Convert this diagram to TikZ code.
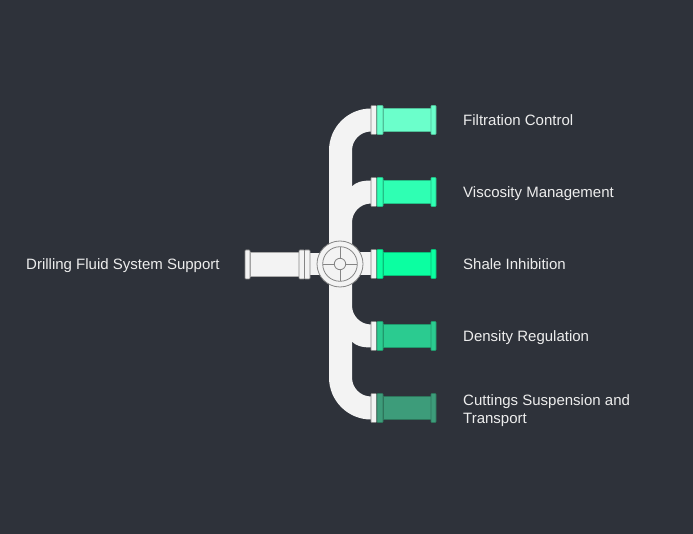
\documentclass[tikz,border=0pt]{standalone}
\usepackage{fontspec}
\setmainfont{Liberation Sans}
\usepackage{tikz}

\definecolor{bgdark}{HTML}{2E323A}
\definecolor{pipewhite}{HTML}{F3F3F3}
\definecolor{pipeedge}{HTML}{858585}
\definecolor{labeltext}{HTML}{EDEDED}
\definecolor{greenA}{HTML}{6BFFCB}
\definecolor{greenB}{HTML}{2FFFB3}
\definecolor{greenC}{HTML}{0BFFA1}
\definecolor{greenD}{HTML}{2BCB90}
\definecolor{greenE}{HTML}{3D9C7A}

\begin{document}
\begin{tikzpicture}[x=1pt,y=-1pt,
    pipe/.style={fill=pipewhite},
    flange/.style={fill=pipewhite,draw=pipeedge,line width=0.6pt,rounded corners=0.8pt},
    label/.style={anchor=base west,inner sep=0pt,text=labeltext,align=left,
                  font=\fontsize{15}{18}\selectfont}]
        % Background
        \fill[bgdark] (0,0) rectangle (693,534);
        % Trunk with elbows and branches
        \fill[pipe] (371,108.5) arc[start angle=270,end angle=180,radius=42]
            -- (329,377.5) arc[start angle=180,end angle=90,radius=42]
            -- (371,396.5) arc[start angle=90,end angle=180,radius=19]
            -- (352,341.5) .. controls (355,345.5) and (362,347.5) .. (371,347.5)
            -- (371,324.5) arc[start angle=90,end angle=180,radius=19]
            -- (352,222.5) arc[start angle=180,end angle=270,radius=19]
            -- (371,180.5) .. controls (362,180.5) and (355,182.5) .. (352,186.5)
            -- (352,150.5) arc[start angle=180,end angle=270,radius=19]
            -- cycle;
        % Inlet pipe
        \fill[pipe] (340,252.5) rectangle (371,275.5);
        \draw[pipe,draw=pipeedge!70,line width=0.5pt] (250,252.5) rectangle (299,276.5);
        \fill[pipe] (310,253.5) rectangle (322,275.5);
        \draw[flange] (245,250) rectangle (250,279);
        \draw[flange] (299,250) rectangle (304.5,279);
        \draw[flange] (304.5,250) rectangle (310,279);
        % Valve
        \draw[pipe,draw=pipeedge,line width=0.8pt] (340,264) circle(23);
        \draw[pipeedge,line width=0.8pt] (340,264) circle(17.3);
        \draw[pipeedge,line width=0.8pt] (340,264) circle(5.7);
        \foreach \a in {0,90,180,270}
            \draw[pipeedge,line width=0.8pt] ([shift={(340,264)}]\a:5.7) -- ([shift={(340,264)}]\a:17.3);
        % Outlet pipes
        \foreach \y/\c in {120/greenA,192/greenB,264/greenC,336/greenD,408/greenE} {
            \draw[flange] (371,\y-14.5) rectangle (376.5,\y+14.5);
            \draw[flange,fill=\c,draw=\c!75!black] (377,\y-14.5) rectangle (383,\y+14.5);
            \draw[fill=\c,draw=\c!75!black,line width=0.6pt] (383,\y-11.5) rectangle (431,\y+11.5);
            \draw[flange,fill=\c,draw=\c!75!black] (431,\y-14.5) rectangle (436,\y+14.5);
        }
        % Labels
        \node[label] (support) at (26,269.5) {Drilling Fluid System Support};
        \node[label] (filtration) at (463,125.5) {Filtration Control};
        \node[label] (viscosity) at (463,197.5) {Viscosity Management};
        \node[label] (shale) at (463,269.5) {Shale Inhibition};
        \node[label] (density) at (463,341.5) {Density Regulation};
        \node[label,anchor=west] (cuttings) at (463,410.5) {Cuttings Suspension and\\Transport};
    \end{tikzpicture}
\end{document}
